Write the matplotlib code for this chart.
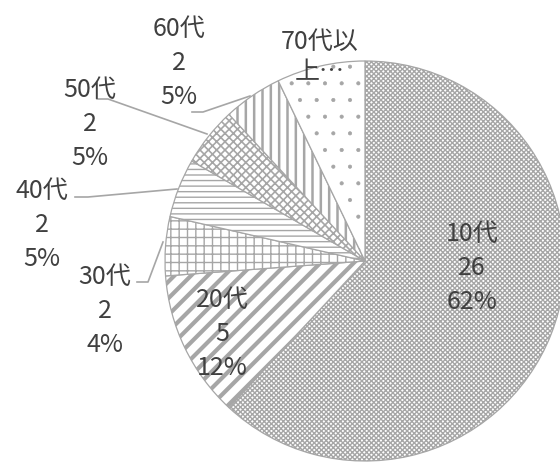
import matplotlib
matplotlib.use("Agg")
import matplotlib.pyplot as plt

# data
groups = ["10代", "20代", "30代", "40代", "50代", "60代", "70代以上"]
counts = [26, 5, 2, 2, 2, 2, 3]
pct_labels = ["62%", "12%", "4%", "5%", "5%", "5%", "7%"]
shown_names = ["10代", "20代", "30代", "40代", "50代", "60代", "70代以\n上…"]

plt.rcParams['font.family'] = ['Noto Sans CJK JP', 'DejaVu Sans']
plt.rcParams['hatch.linewidth'] = 1.0

W, H = 560, 464
fig = plt.figure(figsize=(W / 100, H / 100), dpi=100)
ax = fig.add_axes([0, 0, 1, 1])

grey = "#a6a6a6"
hatches = ["xxxxxxx", "//", "++", "---", "xxxx", "||", "."]
hatch_lw = [1.0, 3.0, 1.0, 1.0, 1.2, 1.8, 0.5]

wedges, _ = ax.pie(counts, startangle=90, counterclock=False,
                   center=(365, H - 262), radius=200, frame=True,
                   wedgeprops=dict(edgecolor=grey, linewidth=0.9, facecolor="white"))
ax.set_xlim(0, W)
ax.set_ylim(0, H)
ax.axis("off")
for w, h, lw in zip(wedges, hatches, hatch_lw):
    w.set_hatch(h)
    if hasattr(w, "set_hatch_linewidth"):
        w.set_hatch_linewidth(lw)

# label layout (pixel positions, y from top)
label_pos = [(472, 268), (222, 334), (105, 311), (42, 225),
             (90, 124), (179, 63), (320, 57)]
txt_col = "#404040"
for name, n, p, (x, y) in zip(shown_names, counts, pct_labels, label_pos):
    if "\n" in name:
        s = name
        ls = 1.2
    else:
        s = f"{name}\n{n}\n{p}"
        ls = 1.38
    ax.text(x, H - y, s, ha="center", va="center", fontsize=18,
            color=txt_col, linespacing=ls)

# leader lines
leaders = [
    [(137, 283), (148, 283), (163, 243)],
    [(75, 198), (88, 198), (177, 190)],
    [(97, 100), (108, 100), (207, 135)],
    [(192, 113), (203, 113), (250, 97)],
]
for pts in leaders:
    xs = [p[0] for p in pts]
    ys = [H - p[1] for p in pts]
    ax.plot(xs, ys, color=grey, lw=1.2)

fig.savefig("out.png", dpi=100)
